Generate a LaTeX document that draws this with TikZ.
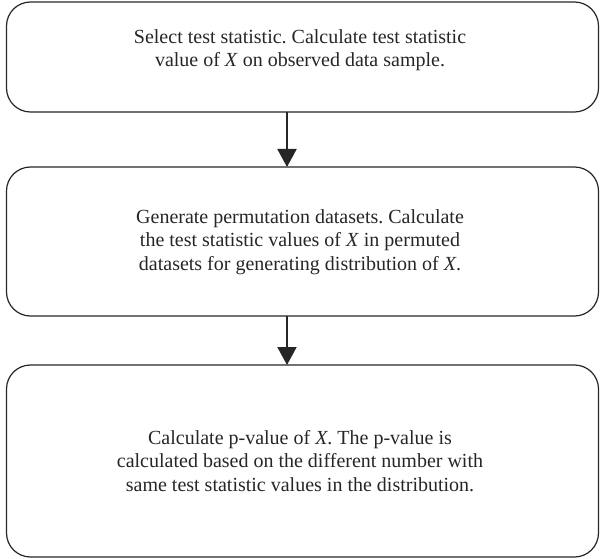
\documentclass[tikz,border=0pt]{standalone}
\usepackage{fontspec}
\setmainfont{Liberation Serif}
\usetikzlibrary{arrows.meta}
\frenchspacing
\begin{document}
\begin{tikzpicture}[x=1pt,y=-1pt,
  box/.style={draw=black!85, line width=1.2pt, rounded corners=24pt, minimum width=592pt, inner sep=0pt},
  txt/.style={align=center, font=\fontsize{20}{23.5}\selectfont, text=black!85},
  arr/.style={draw=black!85, line width=2pt, -{Triangle[width=19pt,length=18pt]}}]
\useasboundingbox (0,0) rectangle (600,559);
\node[box, minimum height=110pt] (b1) at (302.5,57) {};
\node[box, minimum height=149pt] (b2) at (302.5,241.5) {};
\node[box, minimum height=192pt] (b3) at (302.5,461) {};
\node[txt] (t1) at (300,50) {Select test statistic. Calculate test statistic\\value of \textit{X} on observed data sample.};
\node[txt] (t2) at (300,242) {Generate permutation datasets. Calculate\\the test statistic values of \textit{X} in permuted\\datasets for generating distribution of \textit{X}.};
\node[txt] (t3) at (300,461) {Calculate p-value of \textit{X}. The p-value is\\calculated based on the different number with\\same test statistic values in the distribution.};
\coordinate (a1s) at (287,112);
\coordinate (a1e) at (287,167);
\coordinate (a2s) at (287,316);
\coordinate (a2e) at (287,365);
\draw[arr] (a1s) -- (a1e);
\draw[arr] (a2s) -- (a2e);
\end{tikzpicture}
\end{document}
